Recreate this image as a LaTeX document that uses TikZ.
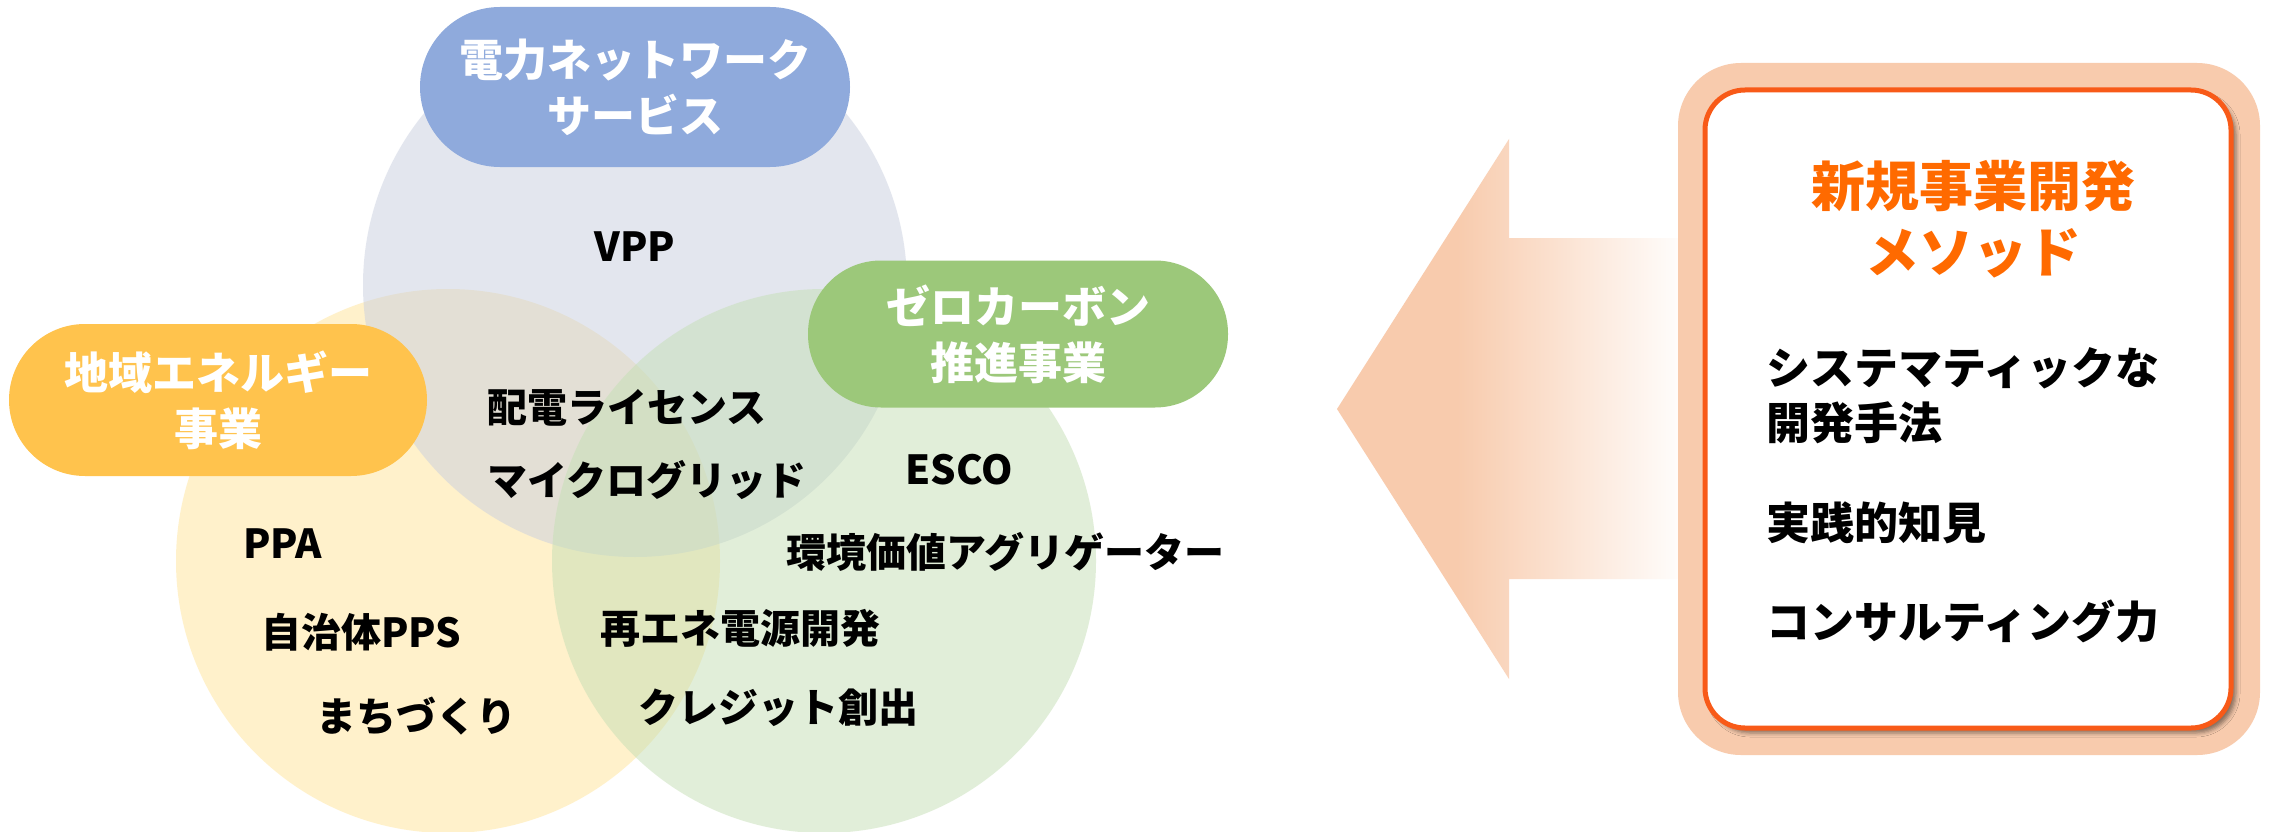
\documentclass[tikz,border=0pt]{standalone}
\usepackage{fontspec}
\setmainfont{Noto Sans CJK JP}
\usetikzlibrary{shadows.blur}
\definecolor{topfill}{HTML}{C9CFDF}
\definecolor{yelfill}{HTML}{FFE599}
\definecolor{grnfill}{HTML}{C5DFB5}
\definecolor{toplab}{HTML}{8FAADC}
\definecolor{yellab}{HTML}{FFC34D}
\definecolor{grnlab}{HTML}{9CC87A}
\definecolor{arrowc}{HTML}{F8CBAD}
\definecolor{boxborder}{HTML}{F85A18}
\definecolor{titlec}{HTML}{FF6A00}
\pgfdeclarehorizontalshading{arrowshade}{100bp}{color(0bp)=(arrowc); color(42bp)=(arrowc); color(75bp)=(white); color(100bp)=(white)}
\tikzset{
  circ/.style={circle, draw=none, fill opacity=0.5, minimum size=544pt, inner sep=0pt},
  lab/.style={draw=none, text=white, font=\bfseries\fontsize{44}{56}\selectfont, align=center, inner sep=0pt},
  txt/.style={text=black, font=\bfseries\fontsize{40}{48}\selectfont, inner sep=0pt},
  mtxt/.style={text=black, font=\bfseries\fontsize{44}{55}\selectfont, inner sep=0pt, align=left, anchor=west},
}
\begin{document}
\begin{tikzpicture}[x=1pt, y=-1pt]
\useasboundingbox (0,0) rectangle (2272,832);
\fill[white] (0,0) rectangle (2272,832);
\begin{scope}
\clip (0,0) rectangle (2272,832);
% circles
\node[circ, fill=yelfill] (cY) at (448,561) {};
\node[circ, fill=topfill] (cT) at (635,285) {};
\node[circ, fill=grnfill] (cG) at (824,561) {};
\end{scope}
% labels
\node[lab, fill=toplab, minimum width=430pt, minimum height=160pt, rounded corners=80pt] (lT) at (635,87) {電力ネットワーク\\サービス};
\node[lab, fill=yellab, minimum width=418pt, minimum height=152pt, rounded corners=76pt] (lY) at (218,400) {地域エネルギー\\事業};
\node[lab, fill=grnlab, minimum width=420pt, minimum height=147pt, rounded corners=73pt] (lG) at (1018,334) {ゼロカーボン\\推進事業};
% circle texts
\node[txt] (vpp) at (635,247) {VPP};
\node[txt, anchor=west] (haiden) at (487,408) {配電ライセンス};
\node[txt, anchor=west] (micro) at (487,480) {マイクログリッド};
\node[txt] (esco) at (959,470) {ESCO};
\node[txt, anchor=west] (kankyo) at (786,552) {環境価値アグリゲーター};
\node[txt, anchor=west] (ppa) at (243,544) {PPA};
\node[txt, anchor=west] (pps) at (261,632) {自治体PPS};
\node[txt, anchor=west] (machi) at (316,716) {まちづくり};
\node[txt, anchor=west] (saiene) at (600,628) {再エネ電源開発};
\node[txt, anchor=west] (credit) at (638,708) {クレジット創出};
% arrow
\shade[shading=arrowshade] (1337,409) -- (1509,139) -- (1509,238) -- (1690,238) -- (1690,579) -- (1509,579) -- (1509,679) -- cycle;
% right box
\node[draw=none, fill=arrowc, minimum width=582pt, minimum height=692pt, rounded corners=63pt, inner sep=0pt] (outer) at (1969,409) {};
\node[draw=boxborder, line width=5pt, fill=white, minimum width=526pt, minimum height=638pt, rounded corners=40pt, inner sep=0pt,
  blur shadow={shadow xshift=5pt, shadow yshift=-5pt, shadow blur radius=4pt, shadow opacity=45}] (inner) at (1968,409) {};
\node[text=titlec, font=\bfseries\fontsize{54}{66}\selectfont, align=center, inner sep=0pt] (title) at (1973,219) {新規事業開発\\メソッド};
\node[mtxt] (m1) at (1766,396) {システマティックな\\開発手法};
\node[mtxt] (m2) at (1766,523) {実践的知見};
\node[mtxt] (m3) at (1766,621) {コンサルティング力};
\end{tikzpicture}
\end{document}
